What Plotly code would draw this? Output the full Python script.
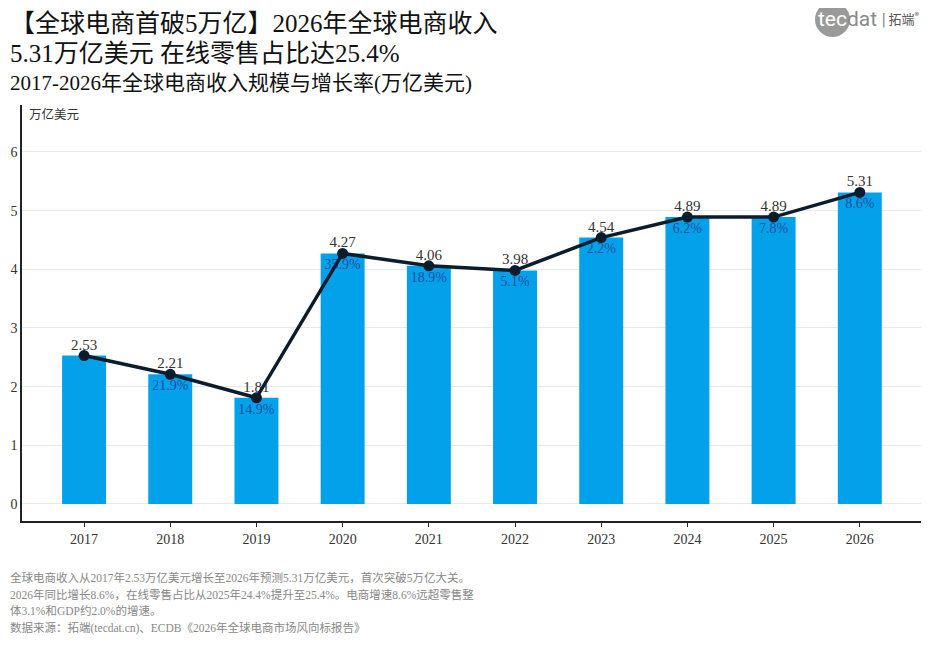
import plotly.graph_objects as go

# 数据
years = ['2017', '2018', '2019', '2020', '2021', '2022', '2023', '2024', '2025', '2026']
revenue = [2.53, 2.21, 1.81, 4.27, 4.06, 3.98, 4.54, 4.89, 4.89, 5.31]
growth = ['', '21.9%', '14.9%', '35.9%', '18.9%', '5.1%', '2.2%', '6.2%', '7.8%', '8.6%']
y_ticks = [0, 1, 2, 3, 4, 5, 6]

title_1 = '【全球电商首破5万亿】2026年全球电商收入'
title_2 = '5.31万亿美元 在线零售占比达25.4%'
subtitle = '2017-2026年全球电商收入规模与增长率(万亿美元)'
unit = '万亿美元'
notes = [
    '全球电商收入从2017年2.53万亿美元增长至2026年预测5.31万亿美元，首次突破5万亿大关。',
    '2026年同比增长8.6%，在线零售占比从2025年24.4%提升至25.4%。电商增速8.6%远超零售整',
    '体3.1%和GDP约2.0%的增速。',
    '数据来源：拓端(tecdat.cn)、ECDB《2026年全球电商市场风向标报告》',
]

FONT = 'Liberation Serif, Noto Sans CJK SC, serif'
LEFT = -0.0156  # 画布最左边

fig = go.Figure()

# 柱状图
fig.add_trace(go.Bar(x=years, y=revenue, width=0.51, marker_color='#03a1e9',
                     marker_line_width=0, hoverinfo='skip'))

# 数值标签（放在折线下层，用透明点撑开间距）
fig.add_trace(go.Scatter(x=years, y=revenue, mode='markers+text',
                         text=[f'{v:.2f}' for v in revenue],
                         textposition='top center',
                         marker=dict(size=2, opacity=0),
                         textfont=dict(family=FONT, size=15, color='#333333')))
fig.add_trace(go.Scatter(x=years, y=revenue, mode='markers+text', text=growth,
                         textposition='bottom center',
                         marker=dict(size=7, opacity=0),
                         textfont=dict(family=FONT, size=14, color='#1d4fa3')))

# 折线
fig.add_trace(go.Scatter(x=years, y=revenue, mode='lines+markers',
                         line=dict(color='#0b1d2c', width=3.5),
                         marker=dict(size=11, color='#0b1d2c')))

# 标题、单位、注释
anns = [
    dict(text=title_1, x=LEFT, y=1.233, size=25, color='#111111', anchor='top'),
    dict(text=title_2, x=LEFT, y=1.125, size=25, color='#111111', anchor='middle'),
    dict(text=subtitle, x=LEFT, y=1.0529, size=21, color='#111111', anchor='middle'),
    dict(text=unit, x=0.006, y=0.978, size=12.5, color='#333333', anchor='middle'),
]
for i, line in enumerate(notes):
    anns.append(dict(text=line, x=LEFT, y=-0.135 - i * 0.0405, size=11.5, color='#888888',
                     anchor='middle'))

for a in anns:
    fig.add_annotation(text=a['text'], x=a['x'], y=a['y'], xref='paper', yref='paper',
                       xanchor='left', yanchor=a['anchor'], showarrow=False,
                       font=dict(family=FONT, size=a['size'], color=a['color']))

# logo
fig.add_shape(type='circle', xref='paper', yref='paper',
              x0=(815 - 22) / 899, x1=(850 - 22) / 899,
              y0=(521 - 37) / 416, y1=(521 - 2) / 416,
              fillcolor='#9a9a9a', line_width=0)
fig.add_annotation(text='<span style="color:white">tec</span><span style="color:#8a8a8a">dat</span>',
                   x=(816 - 22) / 899, y=(521 - 19) / 416, xref='paper', yref='paper',
                   xanchor='left', yanchor='middle', showarrow=False,
                   font=dict(family='Roboto, sans-serif', size=21, color='#8a8a8a'))
fig.add_annotation(text='| 拓端<sup>®</sup>', x=(880 - 22) / 899, y=(521 - 18) / 416,
                   xref='paper', yref='paper', xanchor='left', yanchor='middle',
                   showarrow=False,
                   font=dict(family='Noto Sans CJK SC, sans-serif', size=13, color='#555555'))

fig.update_layout(
    width=930, height=651,
    margin=dict(l=14, r=17, t=97, b=138),
    paper_bgcolor='white', plot_bgcolor='white',
    showlegend=False,
    font=dict(family=FONT, size=13, color='#333333'),
    xaxis=dict(type='category', range=[-0.72, 9.71], showgrid=False, automargin=False,
               showline=True, linecolor='#222222', linewidth=1.5,
               ticks='outside', ticklen=4, tickcolor='#222222',
               tickfont=dict(family=FONT, size=14, color='#333333')),
    yaxis=dict(range=[-0.29, 6.8], tickvals=y_ticks, showgrid=True, automargin=False,
               gridcolor='#e8e8e8', gridwidth=1, zeroline=False,
               showline=True, linecolor='#222222', linewidth=1.5,
               ticks='', tickfont=dict(family=FONT, size=14, color='#333333')),
)

fig.write_html('out.html')
